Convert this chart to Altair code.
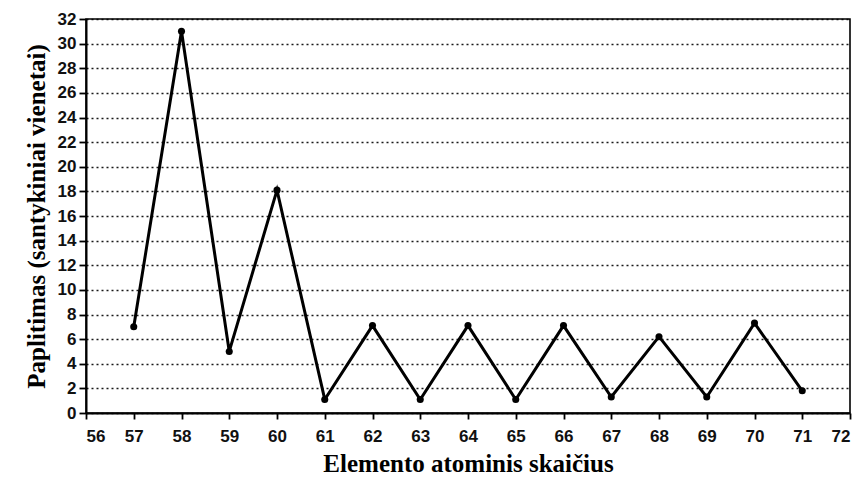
import altair as alt
import pandas as pd

atomic_number = [57, 58, 59, 60, 61, 62, 63, 64, 65, 66, 67, 68, 69, 70, 71]
abundance = [7.0, 31.0, 5.0, 18.1, 1.1, 7.1, 1.1, 7.1, 1.1, 7.1, 1.3, 6.2, 1.3, 7.3, 1.8]
x_ticks = list(range(56, 73))
y_ticks = list(range(0, 33, 2))

df = pd.DataFrame({"z": atomic_number, "v": abundance})

common = dict(labelFont="Liberation Sans", labelFontSize=17, labelFontWeight="bold",
              labelColor="#111", titleFont="Liberation Serif", titleFontSize=25,
              titleFontWeight="bold", titleColor="black", labelOverlap=False)

x = alt.X("z:Q", scale=alt.Scale(domain=[56, 72], nice=False, zero=False),
          axis=alt.Axis(values=x_ticks, grid=False, title="Elemento atominis skaičius",
                        tickSize=6, labelPadding=9, titlePadding=7, **common))
y = alt.Y("v:Q", scale=alt.Scale(domain=[0, 32], nice=False),
          axis=alt.Axis(values=y_ticks, title="Paplitimas (santykiniai vienetai)",
                        tickSize=7, labelPadding=3, titlePadding=8,
                        grid=True, gridDash=[2, 3], gridColor="#000", gridWidth=1.4,
                        gridOpacity=0.9, **common))

base = alt.Chart(df).encode(x=x, y=y)
line = base.mark_line(color="black", strokeWidth=3)
pts = base.mark_point(filled=True, color="black", size=50, opacity=1)

chart = (line + pts).properties(
    width=764, height=394,
    autosize=alt.AutoSizeParams(type="none"),
    padding={"left": 78, "top": 11, "right": 6, "bottom": 66},
).configure(background="white").configure_view(stroke="black", strokeWidth=1.6).configure_axis(
    domainColor="black", domainWidth=2, tickColor="black", tickWidth=1.8,
)

chart.save("out.html", embed_options={"renderer": "svg", "actions": False})
